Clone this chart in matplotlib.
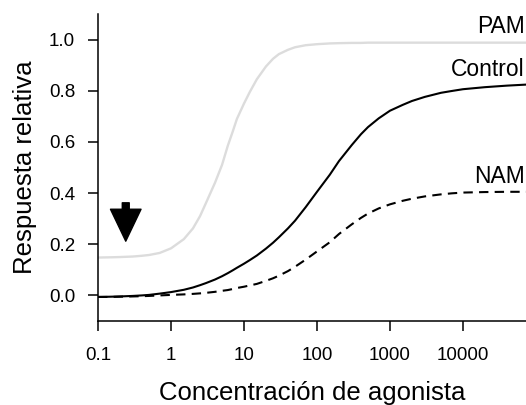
import numpy as np
import matplotlib
matplotlib.use("Agg")
import matplotlib.pyplot as plt

plt.rcParams['font.family'] = ['Liberation Sans', 'DejaVu Sans']

# ── values (concentration, relative response) ─────────────────────────────
conc = [0.1, 0.15, 0.2, 0.3, 0.4, 0.5, 0.7, 1, 1.5, 2, 2.5, 3, 4, 5, 6, 7, 8,
        10, 12, 15, 20, 25, 30, 40, 50, 70, 100, 150, 200, 300, 400, 500, 700,
        1000, 1500, 2000, 3000, 5000, 7000, 10000, 20000, 40000, 73000]

pam = [0.148, 0.149, 0.150, 0.152, 0.155, 0.158, 0.166, 0.184, 0.220, 0.262,
       0.310, 0.360, 0.440, 0.510, 0.585, 0.640, 0.690,
       0.750, 0.795, 0.845, 0.895, 0.925, 0.943, 0.960, 0.970, 0.978,
       0.982, 0.985, 0.986, 0.987, 0.987, 0.988, 0.988,
       0.988, 0.988, 0.988, 0.988, 0.988, 0.988, 0.988, 0.988, 0.988, 0.988]

control = [-0.006, -0.005, -0.004, -0.002, 0.000, 0.002, 0.007, 0.013, 0.022, 0.031,
           0.040, 0.048, 0.062, 0.075, 0.087, 0.098, 0.108,
           0.124, 0.138, 0.156, 0.183, 0.206, 0.227, 0.262, 0.292, 0.345,
           0.405, 0.472, 0.525, 0.588, 0.630, 0.658, 0.692,
           0.722, 0.745, 0.760, 0.776, 0.792, 0.799, 0.806, 0.814, 0.820, 0.824]

nam = [-0.006, -0.006, -0.005, -0.004, -0.003, -0.002, 0.000, 0.002, 0.004, 0.006,
       0.008, 0.010, 0.014, 0.018, 0.021, 0.025, 0.029,
       0.034, 0.039, 0.045, 0.057, 0.067, 0.077, 0.095, 0.112, 0.140,
       0.172, 0.208, 0.240, 0.278, 0.303, 0.320, 0.340,
       0.356, 0.370, 0.378, 0.387, 0.395, 0.399, 0.402, 0.404, 0.405, 0.405]

labels = ['PAM', 'Control', 'NAM']
label_y = [1.05, 0.883, 0.465]

xticks = [0.1, 1, 10, 100, 1000, 10000]
xticklabels = ['0.1', '1', '10', '100', '1000', '10000']
yticks = [0.0, 0.2, 0.4, 0.6, 0.8, 1.0]

arrow_x = 0.24
arrow_from, arrow_to = 0.362, 0.212

# ── figure ─────────────────────────────────────────────────────────────────
fig = plt.figure(figsize=(5.26, 4.05), dpi=100)
ax = fig.add_axes([98 / 526, 84 / 405, 428 / 526, 307 / 405])

ax.plot(conc, pam, color='#dcdcdc', lw=1.7)
ax.plot(conc, control, color='black', lw=1.5)
ax.plot(conc, nam, color='black', lw=1.5, ls=(0, (4.5, 3)))

for lab, yy in zip(labels, label_y):
    ax.text(conc[-1] * 0.96, yy, lab, ha='right', va='center', fontsize=16.5)

ax.annotate('', xy=(arrow_x, arrow_to), xytext=(arrow_x, arrow_from),
            arrowprops=dict(arrowstyle='simple,head_length=2.3,head_width=2.2,tail_width=0.5',
                            color='black', shrinkA=0, shrinkB=0, mutation_scale=10))

ax.set_xscale('log')
ax.set_xlim(0.1, conc[-1])
ax.set_ylim(-0.1, 1.1)
ax.set_xticks(xticks)
ax.set_xticklabels(xticklabels)
ax.xaxis.set_minor_locator(matplotlib.ticker.NullLocator())
ax.set_yticks(yticks)
ax.set_yticklabels([f'{v:.1f}' for v in yticks])

ax.tick_params(axis='x', direction='out', length=7, width=1.1, pad=12, labelsize=13.5)
ax.tick_params(axis='y', direction='out', length=7, width=1.1, pad=9.5, labelsize=13.5)

for side in ['top', 'right']:
    ax.spines[side].set_visible(False)
for side in ['left', 'bottom']:
    ax.spines[side].set_linewidth(1.1)

ax.set_xlabel('Concentración de agonista', fontsize=18.5, labelpad=12)
ax.set_ylabel('Respuesta relativa', fontsize=18.5, labelpad=8.5)

fig.savefig('out.png', dpi=100)
